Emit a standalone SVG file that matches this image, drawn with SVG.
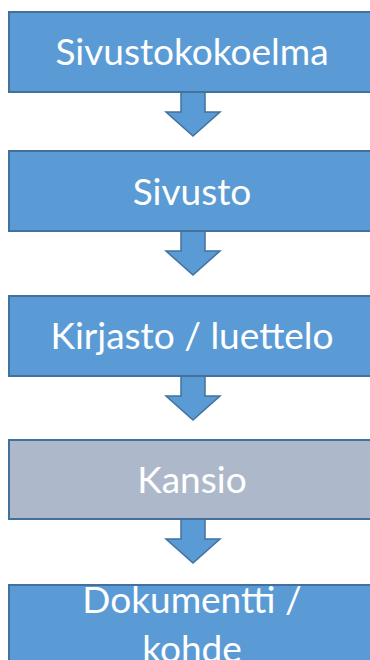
<svg xmlns="http://www.w3.org/2000/svg" width="370" height="660" viewBox="0 0 370 660">
  <style>
    .box { fill: #5B9BD5; stroke: #41719C; stroke-width: 2; }
    .box.muted { fill: #ADB9CA; stroke: #41719C; }
    .label { font-family: Lato, "Open Sans", "Noto Sans", sans-serif; font-size: 37px; fill: #FFFFFF; text-anchor: middle; }
    .arrow { fill: #5B9BD5; stroke: #41719C; stroke-width: 1.5; stroke-linejoin: miter; }
  </style>
  <defs>
    <!-- Block arrow pointing down, origin at top-centre of the shaft -->
    <path id="down-arrow" d="M -12 0 L 12 0 L 12 20 L 27 20 L 0 44 L -27 20 L -12 20 Z"/>
  </defs>
  <rect width="370" height="660" fill="#FFFFFF"/>

  <g id="connectors">
    <use href="#down-arrow" class="arrow" transform="translate(193 92)"/>
    <use href="#down-arrow" class="arrow" transform="translate(193 231)"/>
    <use href="#down-arrow" class="arrow" transform="translate(193 376)"/>
    <use href="#down-arrow" class="arrow" transform="translate(193 519)"/>
  </g>

  <g id="node-sivustokokoelma">
    <rect class="box" x="9" y="12" width="375" height="80"/>
    <text class="label" x="192" y="65">Sivustokokoelma</text>
  </g>
  <g id="node-sivusto">
    <rect class="box" x="9" y="151" width="375" height="80"/>
    <text class="label" x="192" y="205">Sivusto</text>
  </g>
  <g id="node-kirjasto">
    <rect class="box" x="9" y="296" width="375" height="80"/>
    <text class="label" x="192" y="349">Kirjasto / luettelo</text>
  </g>
  <g id="node-kansio">
    <rect class="box muted" x="9" y="440" width="375" height="79"/>
    <text class="label" x="192" y="493">Kansio</text>
  </g>
  <g id="node-dokumentti">
    <rect class="box" x="9" y="585" width="375" height="90"/>
    <text class="label" x="192" y="613">Dokumentti /</text>
    <text class="label" x="192" y="662">kohde</text>
  </g>
</svg>
